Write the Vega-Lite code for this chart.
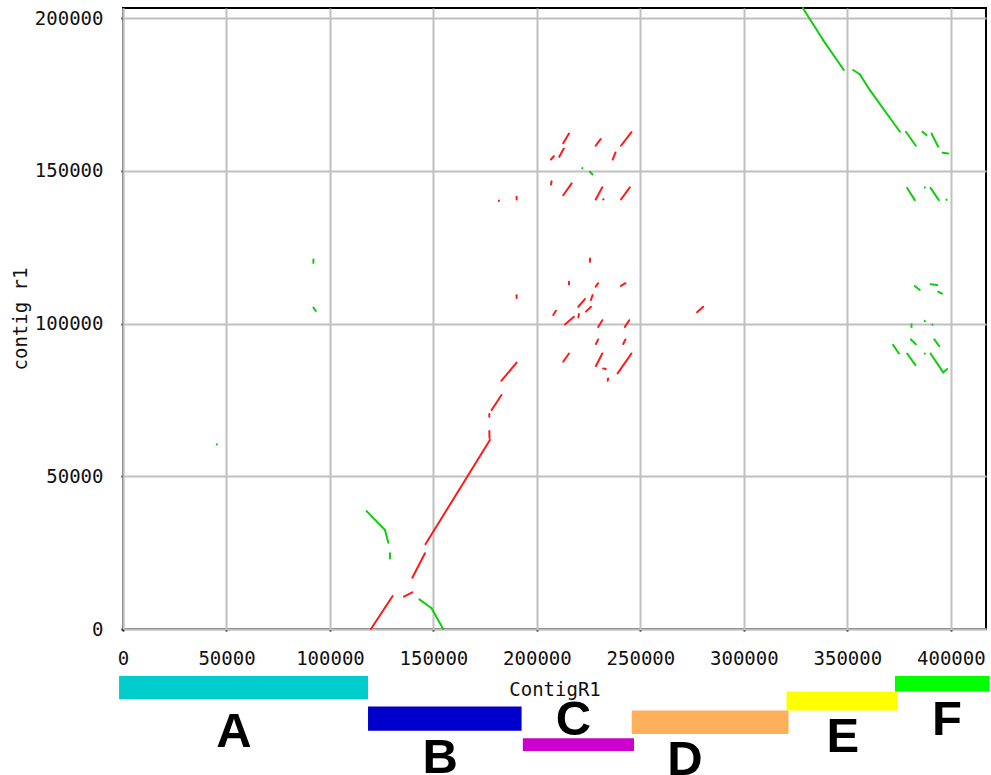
{
  "$schema": "https://vega.github.io/schema/vega-lite/v6.json",
  "autosize": {"type": "none"},
  "width": 863,
  "height": 621,
  "padding": {"left": 123, "top": 8, "right": 5, "bottom": 146},
  "background": "#ffffff",
  "config": {
    "view": {"stroke": "#000000", "strokeWidth": 2},
    "axis": {
      "labelFont": "DejaVu Sans Mono",
      "labelFontSize": 19,
      "labelColor": "#111111",
      "titleFont": "DejaVu Sans Mono",
      "titleFontSize": 19,
      "titleFontWeight": "normal",
      "titleColor": "#111111",
      "tickSize": 2,
      "tickColor": "#000000",
      "tickWidth": 2,
      "labelPadding": 18,
      "domainColor": "#c0c0c0",
      "domainWidth": 2,
      "gridColor": "#c0c0c0",
      "gridWidth": 2,
      "gridOpacity": 1,
      "labelFlush": false,
      "labelOverlap": false
    }
  },
  "datasets": {
    "matches": [
      {"x1": 119800, "y1": 0, "x2": 130300, "y2": 10800, "strand": "forward"},
      {"x1": 135700, "y1": 10600, "x2": 139800, "y2": 12000, "strand": "forward"},
      {"x1": 139800, "y1": 16800, "x2": 145900, "y2": 24800, "strand": "forward"},
      {"x1": 146200, "y1": 27800, "x2": 177300, "y2": 61900, "strand": "forward"},
      {"x1": 177100, "y1": 62500, "x2": 177000, "y2": 64800, "strand": "forward"},
      {"x1": 177000, "y1": 69500, "x2": 177000, "y2": 70400, "strand": "forward"},
      {"x1": 178100, "y1": 71700, "x2": 182900, "y2": 76600, "strand": "forward"},
      {"x1": 182900, "y1": 81300, "x2": 190200, "y2": 87200, "strand": "forward"},
      {"x1": 181600, "y1": 140100, "x2": 181700, "y2": 140300, "strand": "forward"},
      {"x1": 190200, "y1": 140600, "x2": 190200, "y2": 141500, "strand": "forward"},
      {"x1": 190200, "y1": 108400, "x2": 190200, "y2": 109300, "strand": "forward"},
      {"x1": 212700, "y1": 159000, "x2": 215500, "y2": 162200, "strand": "forward"},
      {"x1": 210800, "y1": 154600, "x2": 213000, "y2": 157300, "strand": "forward"},
      {"x1": 206800, "y1": 153700, "x2": 208200, "y2": 154800, "strand": "forward"},
      {"x1": 228400, "y1": 158200, "x2": 230800, "y2": 160400, "strand": "forward"},
      {"x1": 240600, "y1": 158200, "x2": 245700, "y2": 162700, "strand": "forward"},
      {"x1": 236600, "y1": 153700, "x2": 238000, "y2": 156000, "strand": "forward"},
      {"x1": 206800, "y1": 145500, "x2": 207100, "y2": 146600, "strand": "forward"},
      {"x1": 212700, "y1": 142000, "x2": 216800, "y2": 145900, "strand": "forward"},
      {"x1": 228400, "y1": 140600, "x2": 231600, "y2": 144600, "strand": "forward"},
      {"x1": 232000, "y1": 140600, "x2": 232200, "y2": 140700, "strand": "forward"},
      {"x1": 240600, "y1": 140600, "x2": 244900, "y2": 144600, "strand": "forward"},
      {"x1": 225600, "y1": 120200, "x2": 225700, "y2": 121300, "strand": "forward"},
      {"x1": 215500, "y1": 112800, "x2": 215500, "y2": 113700, "strand": "forward"},
      {"x1": 228400, "y1": 112100, "x2": 229600, "y2": 113200, "strand": "forward"},
      {"x1": 240600, "y1": 112300, "x2": 242800, "y2": 113200, "strand": "forward"},
      {"x1": 226100, "y1": 107700, "x2": 226900, "y2": 109300, "strand": "forward"},
      {"x1": 220000, "y1": 105500, "x2": 223200, "y2": 108000, "strand": "forward"},
      {"x1": 220000, "y1": 102000, "x2": 220300, "y2": 103100, "strand": "forward"},
      {"x1": 223700, "y1": 103900, "x2": 226100, "y2": 105500, "strand": "forward"},
      {"x1": 207900, "y1": 102800, "x2": 209200, "y2": 104200, "strand": "forward"},
      {"x1": 213500, "y1": 99700, "x2": 217900, "y2": 102200, "strand": "forward"},
      {"x1": 229600, "y1": 98900, "x2": 231600, "y2": 101100, "strand": "forward"},
      {"x1": 242500, "y1": 98900, "x2": 244600, "y2": 101100, "strand": "forward"},
      {"x1": 228500, "y1": 93300, "x2": 229600, "y2": 94800, "strand": "forward"},
      {"x1": 241700, "y1": 93300, "x2": 242800, "y2": 94800, "strand": "forward"},
      {"x1": 212700, "y1": 87500, "x2": 215500, "y2": 90200, "strand": "forward"},
      {"x1": 228500, "y1": 86100, "x2": 231600, "y2": 90200, "strand": "forward"},
      {"x1": 232000, "y1": 85300, "x2": 233300, "y2": 85100, "strand": "forward"},
      {"x1": 234200, "y1": 81300, "x2": 234400, "y2": 82000, "strand": "forward"},
      {"x1": 239000, "y1": 83700, "x2": 245700, "y2": 90200, "strand": "forward"},
      {"x1": 277400, "y1": 103700, "x2": 280300, "y2": 105500, "strand": "forward"},
      {"x1": 117700, "y1": 38600, "x2": 126600, "y2": 32400, "strand": "reverse"},
      {"x1": 126600, "y1": 32400, "x2": 128200, "y2": 28200, "strand": "reverse"},
      {"x1": 129000, "y1": 23100, "x2": 129000, "y2": 24800, "strand": "reverse"},
      {"x1": 143200, "y1": 9700, "x2": 149100, "y2": 6800, "strand": "reverse"},
      {"x1": 149100, "y1": 6800, "x2": 154700, "y2": 0, "strand": "reverse"},
      {"x1": 92000, "y1": 119800, "x2": 92000, "y2": 121000, "strand": "reverse"},
      {"x1": 92000, "y1": 105200, "x2": 93200, "y2": 104100, "strand": "reverse"},
      {"x1": 45300, "y1": 60400, "x2": 45400, "y2": 60500, "strand": "reverse"},
      {"x1": 221900, "y1": 150800, "x2": 222000, "y2": 150900, "strand": "reverse"},
      {"x1": 225600, "y1": 149700, "x2": 226900, "y2": 148800, "strand": "reverse"},
      {"x1": 328500, "y1": 203300, "x2": 338300, "y2": 192800, "strand": "reverse"},
      {"x1": 338300, "y1": 192800, "x2": 348300, "y2": 183000, "strand": "reverse"},
      {"x1": 352800, "y1": 183000, "x2": 356000, "y2": 181600, "strand": "reverse"},
      {"x1": 356000, "y1": 181600, "x2": 360900, "y2": 176400, "strand": "reverse"},
      {"x1": 360900, "y1": 176400, "x2": 375400, "y2": 162800, "strand": "reverse"},
      {"x1": 378300, "y1": 162800, "x2": 383100, "y2": 158200, "strand": "reverse"},
      {"x1": 386300, "y1": 162800, "x2": 388200, "y2": 161700, "strand": "reverse"},
      {"x1": 390700, "y1": 162200, "x2": 393900, "y2": 157900, "strand": "reverse"},
      {"x1": 396000, "y1": 155900, "x2": 398700, "y2": 155700, "strand": "reverse"},
      {"x1": 378900, "y1": 144400, "x2": 382600, "y2": 140400, "strand": "reverse"},
      {"x1": 387400, "y1": 144600, "x2": 387500, "y2": 144500, "strand": "reverse"},
      {"x1": 390200, "y1": 144400, "x2": 394200, "y2": 140400, "strand": "reverse"},
      {"x1": 397900, "y1": 140600, "x2": 398000, "y2": 140500, "strand": "reverse"},
      {"x1": 382600, "y1": 112300, "x2": 385000, "y2": 111000, "strand": "reverse"},
      {"x1": 390200, "y1": 112900, "x2": 393400, "y2": 112600, "strand": "reverse"},
      {"x1": 393900, "y1": 110400, "x2": 395800, "y2": 109800, "strand": "reverse"},
      {"x1": 387400, "y1": 100900, "x2": 387500, "y2": 100800, "strand": "reverse"},
      {"x1": 391100, "y1": 99700, "x2": 391200, "y2": 99600, "strand": "reverse"},
      {"x1": 381000, "y1": 98900, "x2": 381000, "y2": 99800, "strand": "reverse"},
      {"x1": 380700, "y1": 94800, "x2": 383100, "y2": 93200, "strand": "reverse"},
      {"x1": 392000, "y1": 94800, "x2": 394400, "y2": 92600, "strand": "reverse"},
      {"x1": 372100, "y1": 93000, "x2": 374900, "y2": 90200, "strand": "reverse"},
      {"x1": 378900, "y1": 90200, "x2": 382900, "y2": 86400, "strand": "reverse"},
      {"x1": 387400, "y1": 90200, "x2": 387500, "y2": 90100, "strand": "reverse"},
      {"x1": 390200, "y1": 90200, "x2": 396300, "y2": 84000, "strand": "reverse"},
      {"x1": 396300, "y1": 84000, "x2": 398200, "y2": 85100, "strand": "reverse"}
    ],
    "contigs": [
      {"contig": "A", "start": -1900, "end": 118400, "top": -15400, "bottom": -23000, "labelX": 53600, "labelY": -38500},
      {"contig": "B", "start": 118400, "end": 192600, "top": -25400, "bottom": -33300, "labelX": 153300, "labelY": -47100},
      {"contig": "C", "start": 193200, "end": 246900, "top": -35800, "bottom": -39900, "labelX": 217600, "labelY": -34700},
      {"contig": "D", "start": 245800, "end": 321600, "top": -26700, "bottom": -34400, "labelX": 271500, "labelY": -47900},
      {"contig": "E", "start": 320600, "end": 374100, "top": -20500, "bottom": -26700, "labelX": 347800, "labelY": -40200},
      {"contig": "F", "start": 373000, "end": 418800, "top": -15400, "bottom": -20500, "labelX": 398200, "labelY": -34700}
    ]
  },
  "layer": [
    {
      "data": {"name": "matches"},
      "mark": {"type": "rule", "strokeWidth": 2, "strokeCap": "round"},
      "encoding": {
        "x": {
          "field": "x1", "type": "quantitative",
          "scale": {"domain": [0, 417000], "nice": false, "zero": false},
          "axis": {"values": [0, 50000, 100000, 150000, 200000, 250000, 300000, 350000, 400000], "format": "d", "title": "ContigR1", "titlePadding": 12}
        },
        "x2": {"field": "x2"},
        "y": {
          "field": "y1", "type": "quantitative",
          "scale": {"domain": [0, 203300], "nice": false, "zero": false},
          "axis": {"values": [0, 50000, 100000, 150000, 200000], "format": "d", "title": "contig r1", "titlePadding": 4}
        },
        "y2": {"field": "y2"},
        "color": {
          "field": "strand", "type": "nominal",
          "scale": {"domain": ["forward", "reverse"], "range": ["#ff1a1a", "#11cc11"]},
          "legend": null
        }
      }
    },
    {
      "data": {"name": "contigs"},
      "mark": {"type": "rect"},
      "encoding": {
        "x": {"field": "start", "type": "quantitative"},
        "x2": {"field": "end"},
        "y": {"field": "top", "type": "quantitative"},
        "y2": {"field": "bottom"},
        "fill": {
          "field": "contig", "type": "nominal",
          "scale": {"domain": ["A", "B", "C", "D", "E", "F"], "range": ["#00cccc", "#0000cc", "#cc00cc", "#ffb05a", "#ffff00", "#00ff00"]},
          "legend": null
        }
      }
    },
    {
      "data": {"name": "contigs"},
      "mark": {"type": "text", "font": "Liberation Sans Narrow, Liberation Sans", "fontWeight": "bold", "fontSize": 49, "align": "center", "baseline": "alphabetic", "color": "#000000"},
      "encoding": {
        "x": {"field": "labelX", "type": "quantitative"},
        "y": {"field": "labelY", "type": "quantitative"},
        "text": {"field": "contig"}
      }
    }
  ],
  "resolve": {"scale": {"color": "independent", "fill": "independent"}}
}
